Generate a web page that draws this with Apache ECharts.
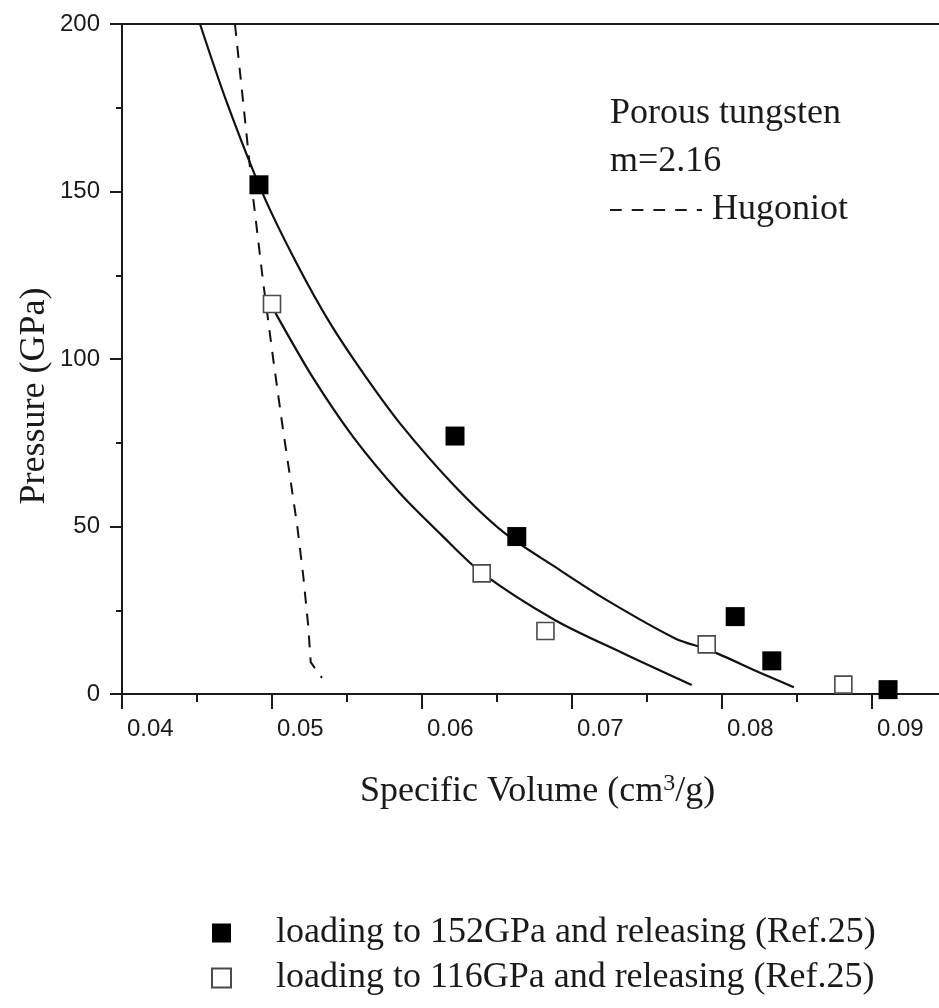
<!DOCTYPE html>
<html>
<head>
<meta charset="utf-8">
<script src="https://cdn.jsdelivr.net/npm/echarts@6/dist/echarts.min.js"></script>
<style>
html,body{margin:0;padding:0;background:#fff;}
#chart{width:939px;height:1008px;}
</style>
</head>
<body>
<div id="chart"></div>
<script>
// ---- data ----
const xTickLabels = ['0.04', '0.05', '0.06', '0.07', '0.08', '0.09'];
const yTickLabels = ['0', '50', '100', '150', '200'];

// filled squares: loading to 152GPa and releasing (Ref.25)
const loaded152 = [[0.04913, 152], [0.0622, 77], [0.06632, 47], [0.08088, 23.1], [0.08332, 9.9], [0.09107, 1.3]];
// open squares: loading to 116GPa and releasing (Ref.25)
const loaded116 = [[0.0500, 116.4], [0.06398, 36], [0.06823, 18.8], [0.07898, 14.8], [0.08809, 2.8]];

// calculated release curves (solid)
const upperCurve = [[0.0452, 200], [0.04698, 176.7], [0.04942, 149], [0.05164, 128.6], [0.05387, 110.7],
  [0.05609, 95.7], [0.05853, 80.8], [0.06211, 62.4], [0.06541, 48.4], [0.06885, 38], [0.07229, 28.1],
  [0.07688, 16.6], [0.07917, 13.1], [0.08261, 6.2], [0.08479, 2.0]];
const lowerCurve = [[0.0500, 116], [0.05031, 113.1], [0.05276, 94.2], [0.05542, 76.7], [0.05853, 59.9],
  [0.06129, 47.5], [0.06404, 36], [0.06885, 22.1], [0.07344, 12.1], [0.07798, 2.7]];
// Hugoniot (dashed)
const hugoniot = [[0.04753, 200], [0.04876, 147.5], [0.04942, 122.6], [0.05009, 99.7], [0.0507, 80],
  [0.0512, 64.9], [0.05169, 49.9], [0.05209, 35], [0.05242, 20.1], [0.05258, 9.5], [0.05333, 4.8]];

const seriesNames = ['loading to 152GPa and releasing (Ref.25)', 'loading to 116GPa and releasing (Ref.25)'];
const annotation = ['Porous tungsten', 'm=2.16', 'Hugoniot'];

// ---- chart ----
const SERIF = '"Liberation Serif", "Times New Roman", serif';
const SANS = '"Liberation Sans", Arial, sans-serif';
const INK = '#1a1a1a';

const chart = echarts.init(document.getElementById('chart'), null, {renderer: 'canvas'});

const option = {
  backgroundColor: '#ffffff',
  animation: false,
  grid: {left: 122, width: 900, top: 24, height: 670, containLabel: false, outerBoundsMode: 'none'},
  xAxis: [{
    type: 'value', min: 0.04, max: 0.10, interval: 0.01,
    axisLine: {show: true, onZero: false, lineStyle: {color: INK, width: 2}},
    axisTick: {show: true, length: 15, lineStyle: {color: INK, width: 2}},
    minorTick: {show: true, splitNumber: 2, length: 8, lineStyle: {color: INK, width: 2}},
    splitLine: {show: false},
    axisLabel: {
      fontFamily: SANS, fontSize: 24, color: INK, margin: 23, align: 'left', padding: [0, 0, 0, 5],
      formatter: function (v) {
        const i = Math.round((v - 0.04) / 0.01);
        return (Math.abs(v - (0.04 + i * 0.01)) < 1e-9 && i >= 0 && i < xTickLabels.length) ? xTickLabels[i] : '';
      }
    }
  }, {
    type: 'value', position: 'top', min: 0.04, max: 0.10,
    axisLine: {show: true, onZero: false, lineStyle: {color: INK, width: 2}},
    axisTick: {show: false}, axisLabel: {show: false}, splitLine: {show: false}
  }],
  yAxis: {
    type: 'value', min: 0, max: 200, interval: 50,
    axisLine: {show: true, onZero: false, lineStyle: {color: INK, width: 2}},
    axisTick: {show: true, length: 12, lineStyle: {color: INK, width: 2}},
    minorTick: {show: true, splitNumber: 2, length: 6, lineStyle: {color: INK, width: 2}},
    splitLine: {show: false},
    axisLabel: {
      fontFamily: SANS, fontSize: 24, color: INK, margin: 22,
      formatter: function (v) { return yTickLabels[Math.round(v / 50)]; }
    }
  },
  legend: {
    data: seriesNames,
    orient: 'vertical',
    left: 211, top: 913, padding: 0,
    itemWidth: 19, itemHeight: 19, itemGap: 5,
    icon: 'rect',
    textStyle: {fontFamily: SERIF, fontSize: 36, color: INK, lineHeight: 40, padding: [0, 0, 0, 40]},
    selectedMode: false
  },
  series: [
    {type: 'line', name: 'upper', data: upperCurve, smooth: 0.3, showSymbol: false, symbol: 'none',
      lineStyle: {color: '#111', width: 2.2}, z: 2},
    {type: 'line', name: 'lower', data: lowerCurve, smooth: 0.3, showSymbol: false, symbol: 'none',
      lineStyle: {color: '#111', width: 2.2}, z: 2},
    {type: 'line', name: 'Hugoniot', data: hugoniot, smooth: false, showSymbol: false, symbol: 'none',
      lineStyle: {color: '#111', width: 2, type: [12, 10]}, z: 2},
    {type: 'scatter', name: seriesNames[0], data: loaded152, symbol: 'rect', symbolSize: 19,
      itemStyle: {color: '#000', borderColor: '#000', borderWidth: 0, opacity: 1}, z: 5},
    {type: 'scatter', name: seriesNames[1], data: loaded116, symbol: 'rect', symbolSize: 17,
      itemStyle: {color: '#fff', borderColor: '#4a4a4a', borderWidth: 1.6, opacity: 1}, z: 6}
  ],
  graphic: [
    {type: 'text', x: 35, y: 396, rotation: Math.PI / 2,
      style: {text: 'Pressure (GPa)', font: '36px ' + SERIF, fill: INK, align: 'center', verticalAlign: 'middle'}},
    {type: 'text', x: 360, y: 792,
      style: {
        text: '{a|Specific Volume (cm}{s|3}{a|/g)}', fill: INK, align: 'left', verticalAlign: 'middle',
        rich: {
          a: {fontFamily: SERIF, fontSize: 36, fill: INK, lineHeight: 40},
          s: {fontFamily: SERIF, fontSize: 24, fill: INK, verticalAlign: 'top', lineHeight: 24}
        }
      }},
    {type: 'text', x: 610, y: 114,
      style: {text: annotation[0], font: '36px ' + SERIF, fill: INK, align: 'left', verticalAlign: 'middle'}},
    {type: 'text', x: 610, y: 162,
      style: {text: annotation[1], font: '36px ' + SERIF, fill: INK, align: 'left', verticalAlign: 'middle'}},
    {type: 'line', shape: {x1: 610, y1: 210, x2: 702, y2: 210},
      style: {stroke: INK, lineWidth: 2, lineDash: [11.7, 10]}},
    {type: 'text', x: 712, y: 210,
      style: {text: annotation[2], font: '36px ' + SERIF, fill: INK, align: 'left', verticalAlign: 'middle'}}
  ]
};

chart.setOption(option);
</script>
</body>
</html>
